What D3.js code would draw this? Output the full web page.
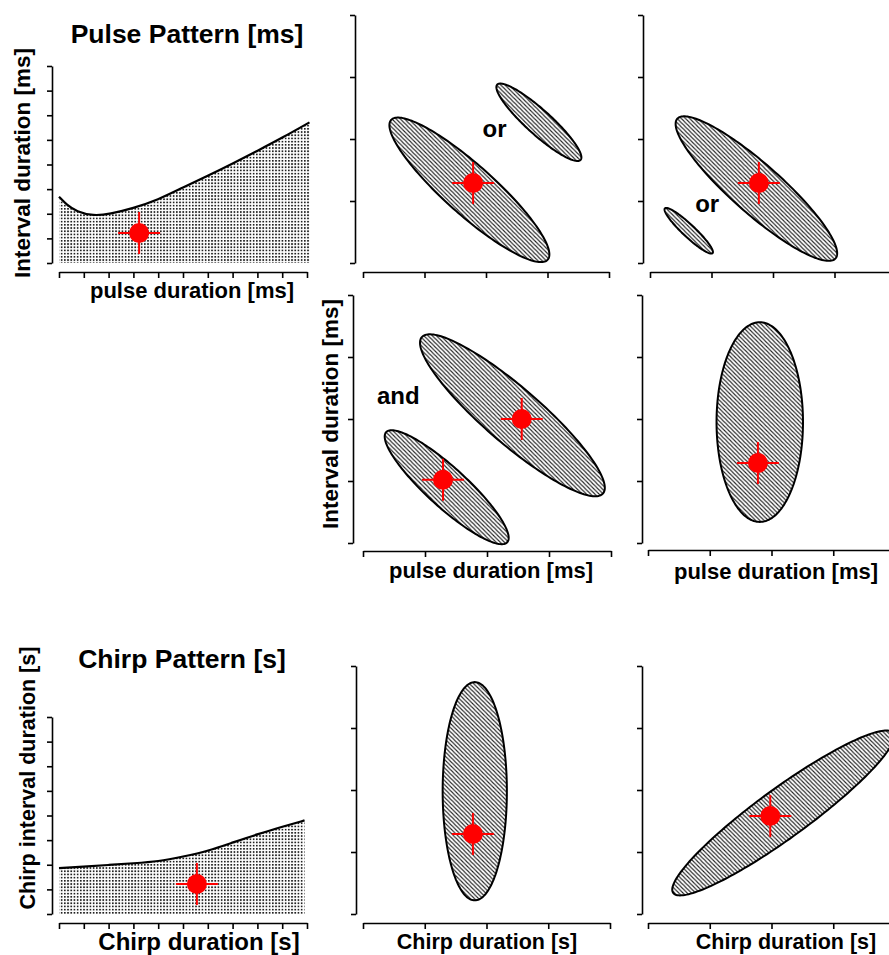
<!DOCTYPE html>
<html>
<head>
<meta charset="utf-8">
<script src="https://cdn.jsdelivr.net/npm/d3@7"></script>
<style>
  body { margin: 0; background: #fff; }
  svg text { font-family: 'Liberation Sans', Arial, Helvetica, sans-serif; font-weight: bold; fill: #000; }
</style>
</head>
<body>
<div id="chart"></div>
<script>
// threshold curves of the left column (data units = tick steps)
const pulseCurveX = [0, 0.31, 0.71, 1.38, 2.06, 2.98, 3.99, 5.0, 6.02, 7.02, 8.03, 9.03, 10.1]
const pulseCurveY = [2.69, 2.36, 2.09, 1.91, 1.99, 2.22, 2.56, 3.07, 3.55, 4.05, 4.57, 5.1, 5.71]
const chirpCurveX = [0, 0.98, 1.99, 3.0, 4.0, 5.0, 6.02, 7.02, 8.03, 9.03, 9.9]
const chirpCurveY = [1.86, 1.92, 1.99, 2.06, 2.13, 2.33, 2.56, 2.91, 3.25, 3.55, 3.8]

// tick values
const wideTicksX = [0, 1, 2, 3, 4, 5, 6, 7, 8, 9, 10]
const wideTicksY = [0, 1, 2, 3, 4, 5, 6, 7, 8]
const narrowTicks = [0, 1, 2, 3, 4]

// preference ellipses: centre, semi axes and angle (degrees) in data units
const ellipsePanel = ['or1', 'or1', 'or2', 'or2', 'and', 'and', 'wide', 'chirpA', 'chirpB']
const ellipseCx = [1.73, 2.86, 1.73, 0.63, 2.41, 1.35, 1.81, 1.81, 2.19]
const ellipseCy = [1.18, 2.27, 1.2, 0.52, 2.06, 0.9, 1.95, 1.98, 1.63]
const ellipseA = [1.7, 0.91, 1.71, 0.53, 1.93, 1.32, 1.61, 1.76, 2.2]
const ellipseB = [0.4, 0.2, 0.4, 0.1, 0.45, 0.32, 0.7, 0.52, 0.4]
const ellipseAngle = [-41.5, -41.8, -41.2, -43, -40.8, -42.3, 90, 90, 35.9]

// conspecific song (red cross)
const markerPanel = ['pulse', 'or1', 'or2', 'and', 'and', 'wide', 'chirp', 'chirpA', 'chirpB']
const markerX = [3.23, 1.79, 1.77, 2.56, 1.29, 1.78, 5.56, 1.78, 1.98]
const markerY = [1.22, 1.29, 1.29, 2.0, 1.02, 1.29, 1.22, 1.29, 1.58]

// in-plot words
const noteText = ['or', 'or', 'and']
const notePanel = ['or1', 'or2', 'and']
const noteX = [2.14, 0.93, 0.57]
const noteY = [2.03, 0.83, 2.25]

const width = 889
const height = 955

// layout of the eight panels (pixels)
const panels = [
  { key: 'pulse', x0: 59, x1: 307, y0: 263, y1: 66, axisX: 52, axisY: 272, xTicks: wideTicksX, yTicks: wideTicksY,
    title: 'Pulse Pattern [ms]', titleX: 187, titleY: 43,
    xLabel: 'pulse duration [ms]', xLabelX: 192, xLabelY: 298, xLabelSize: 22,
    yLabel: 'Interval duration [ms]', yLabelX: 22, yLabelY: 163, yLabelSize: 22.5 },
  { key: 'or1', x0: 363, x1: 609, y0: 263, y1: 15, axisX: 355, axisY: 272, xTicks: narrowTicks, yTicks: narrowTicks },
  { key: 'or2', x0: 650, x1: 896, y0: 263, y1: 15, axisX: 643, axisY: 272, xTicks: narrowTicks, yTicks: narrowTicks },
  { key: 'and', x0: 363, x1: 611, y0: 543, y1: 295, axisX: 353, axisY: 551, xTicks: narrowTicks, yTicks: narrowTicks,
    xLabel: 'pulse duration [ms]', xLabelX: 491, xLabelY: 578, xLabelSize: 22,
    yLabel: 'Interval duration [ms]', yLabelX: 330, yLabelY: 414, yLabelSize: 22.5 },
  { key: 'wide', x0: 648, x1: 895, y0: 543, y1: 295, axisX: 642, axisY: 550, xTicks: narrowTicks, yTicks: narrowTicks,
    xLabel: 'pulse duration [ms]', xLabelX: 776, xLabelY: 579, xLabelSize: 22 },
  { key: 'chirp', x0: 59, x1: 307, y0: 914, y1: 717, axisX: 52, axisY: 923, xTicks: wideTicksX, yTicks: wideTicksY,
    title: 'Chirp Pattern [s]', titleX: 182, titleY: 668,
    xLabel: 'Chirp duration [s]', xLabelX: 199, xLabelY: 950, xLabelSize: 24,
    yLabel: 'Chirp interval duration [s]', yLabelX: 27, yLabelY: 778, yLabelSize: 21.5 },
  { key: 'chirpA', x0: 363, x1: 610, y0: 914, y1: 666, axisX: 356, axisY: 923, xTicks: narrowTicks, yTicks: narrowTicks,
    xLabel: 'Chirp duration [s]', xLabelX: 487, xLabelY: 949, xLabelSize: 21.5 },
  { key: 'chirpB', x0: 648, x1: 895, y0: 914, y1: 666, axisX: 642, axisY: 923, xTicks: narrowTicks, yTicks: narrowTicks,
    xLabel: 'Chirp duration [s]', xLabelX: 786, xLabelY: 949, xLabelSize: 21.5 }
]

const svg = d3.select('#chart').append('svg')
  .attr('width', width)
  .attr('height', height)

const defs = svg.append('defs')
defs.append('pattern')
  .attr('id', 'dots')
  .attr('patternUnits', 'userSpaceOnUse')
  .attr('width', 3.2).attr('height', 3.2)
  .append('rect')
  .attr('width', 1.7).attr('height', 1.7)
  .attr('fill', '#222')

// "\" hatching, 4px horizontal period
defs.append('pattern')
  .attr('id', 'hatch')
  .attr('patternUnits', 'userSpaceOnUse')
  .attr('width', 4.2).attr('height', 4.2)
  .append('path')
  .attr('d', 'M-1,-1L5.2,5.2M-1,3.2L1,5.2M3.2,-1L5.2,1')
  .attr('stroke', '#222')
  .attr('stroke-width', 1.1)

const scales = {}

panels.forEach(function (p) {
  const x = d3.scaleLinear().domain(d3.extent(p.xTicks)).range([p.x0, p.x1])
  const y = d3.scaleLinear().domain(d3.extent(p.yTicks)).range([p.y0, p.y1])
  scales[p.key] = { x: x, y: y }
  const g = svg.append('g').attr('class', 'panel-' + p.key)

  g.append('g')
    .attr('transform', 'translate(' + p.axisX + ',0)')
    .call(d3.axisLeft(y).tickValues(p.yTicks).tickSize(5).tickSizeOuter(0).tickFormat(''))
  g.append('g')
    .attr('transform', 'translate(0,' + p.axisY + ')')
    .call(d3.axisBottom(x).tickValues(p.xTicks).tickSize(6).tickSizeOuter(0).tickFormat(''))

  if (p.title)
    svg.append('text')
      .attr('x', p.titleX).attr('y', p.titleY)
      .attr('text-anchor', 'middle')
      .style('font-size', '26.5px')
      .text(p.title)

  if (p.xLabel)
    svg.append('text')
      .attr('x', p.xLabelX).attr('y', p.xLabelY)
      .attr('text-anchor', 'middle')
      .style('font-size', p.xLabelSize + 'px')
      .text(p.xLabel)

  if (p.yLabel)
    svg.append('text')
      .attr('transform', 'translate(' + p.yLabelX + ',' + p.yLabelY + ') rotate(-90)')
      .attr('text-anchor', 'middle')
      .attr('dy', '0.35em')
      .style('font-size', p.yLabelSize + 'px')
      .text(p.yLabel)
})

svg.selectAll('.domain, .tick line')
  .attr('stroke', '#000')
  .attr('stroke-width', 1.6)

// dotted threshold areas
function drawThreshold (key, xs, ys) {
  const s = scales[key]
  const pts = xs.map(function (v, i) { return [v, ys[i]] })
  const area = d3.area()
    .x(function (d) { return s.x(d[0]) })
    .y0(s.y(0))
    .y1(function (d) { return s.y(d[1]) })
    .curve(d3.curveBasis)
  const line = d3.line()
    .x(function (d) { return s.x(d[0]) })
    .y(function (d) { return s.y(d[1]) })
    .curve(d3.curveBasis)
  svg.append('path').datum(pts).attr('d', area).attr('fill', 'url(#dots)')
  svg.append('path').datum(pts).attr('d', line)
    .attr('fill', 'none').attr('stroke', '#000').attr('stroke-width', 2.2)
}
drawThreshold('pulse', pulseCurveX, pulseCurveY)
drawThreshold('chirp', chirpCurveX, chirpCurveY)

// hatched ellipses
const steps = d3.range(0, 2 * Math.PI, Math.PI / 90)
ellipsePanel.forEach(function (key, i) {
  const s = scales[key]
  const th = ellipseAngle[i] * Math.PI / 180
  const pts = steps.map(function (t) {
    const u = ellipseA[i] * Math.cos(t)
    const w = ellipseB[i] * Math.sin(t)
    return [ellipseCx[i] + u * Math.cos(th) - w * Math.sin(th), ellipseCy[i] + u * Math.sin(th) + w * Math.cos(th)]
  })
  svg.append('path')
    .datum(pts)
    .attr('d', d3.line().x(function (d) { return s.x(d[0]) }).y(function (d) { return s.y(d[1]) }).curve(d3.curveLinearClosed))
    .attr('fill', 'url(#hatch)')
    .attr('stroke', '#000')
    .attr('stroke-width', 2)
})

noteText.forEach(function (t, i) {
  const s = scales[notePanel[i]]
  svg.append('text')
    .attr('x', s.x(noteX[i])).attr('y', s.y(noteY[i]))
    .attr('text-anchor', 'middle')
    .style('font-size', '24px')
    .text(t)
})

// red song markers
markerPanel.forEach(function (key, i) {
  const s = scales[key]
  const cx = s.x(markerX[i])
  const cy = s.y(markerY[i])
  const m = svg.append('g').attr('class', 'marker')
  m.append('line').attr('x1', cx - 21).attr('x2', cx + 21).attr('y1', cy).attr('y2', cy)
  m.append('line').attr('x1', cx).attr('x2', cx).attr('y1', cy - 21).attr('y2', cy + 21)
  m.selectAll('line').attr('stroke', '#ff0000').attr('stroke-width', 2)
  m.append('circle').attr('cx', cx).attr('cy', cy).attr('r', 10).attr('fill', '#ff0000')
})
</script>
</body>
</html>
